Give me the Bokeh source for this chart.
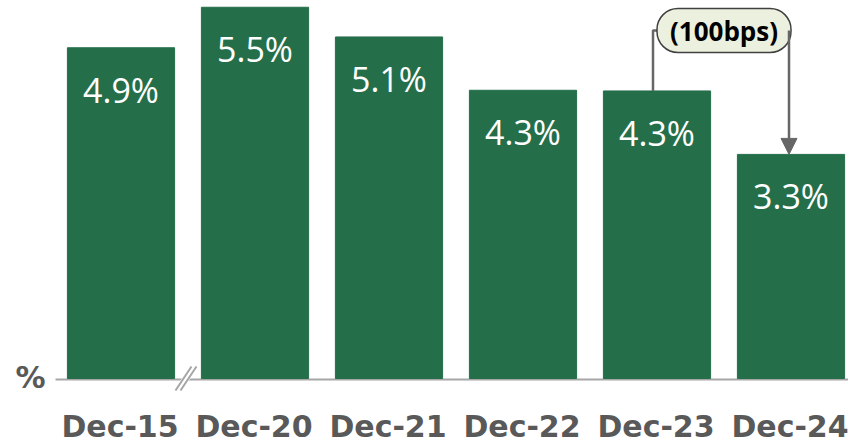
from bokeh.plotting import figure
from bokeh.models import Range1d, Arrow, NormalHead, ColumnDataSource
from bokeh.core.properties import value
from bokeh.embed import file_html
from bokeh.resources import INLINE

# ---- data ----
categories = ["Dec-15", "Dec-20", "Dec-21", "Dec-22", "Dec-23", "Dec-24"]
rates = [4.9, 5.5, 5.06, 4.27, 4.26, 3.32]
value_labels = [f"{v:.1f}%" for v in rates]
change_label = "(100bps)"
unit_label = "%"

# ---- styling / geometry helpers ----
W, H = 848, 445
PITCH = 134.0      # px per category
PXY = 67.5         # px per 1 percentage point
BASE_PX = 378.0    # baseline y within the figure (from top)
FIRST_PX = 120.5   # first bar centre within the figure (from left)

x0 = -FIRST_PX / PITCH
x1 = (W - FIRST_PX) / PITCH
y1 = BASE_PX / PXY
y0 = -(H - BASE_PX) / PXY

def dx(px):
    return px / PITCH

def dy(px):
    return px / PXY

GREEN = "#246F4A"
GREY = "#595959"
AXIS = "#A6A6A6"

p = figure(width=W, height=H, output_backend="svg", toolbar_location=None,
           x_range=Range1d(x0, x1), y_range=Range1d(y0, y1),
           min_border=0, outline_line_color=None)
p.axis.visible = False
p.grid.visible = False
p.background_fill_color = "white"
p.border_fill_color = "white"

xs = list(range(len(categories)))

# axis baseline
p.line([x0 + dx(55), x1], [-dy(1), -dy(1)], line_color=AXIS, line_width=2)

# bars
src = ColumnDataSource(dict(x=xs, top=rates, lab=value_labels, cat=categories,
                            ly=[r - dy(42) for r in rates]))
p.vbar(x="x", top="top", bottom=0, width=0.8, source=src,
       fill_color=GREEN, line_color=GREEN)

# value labels
p.text(x="x", y="ly", text="lab", source=src, text_color="white",
       text_font=value("Open Sans"), text_font_size="34px",
       text_align="center", text_baseline="middle")

# category labels
p.text(x="x", y=-dy(48), text="cat", source=src, text_color=GREY,
       text_font=value("DejaVu Sans"), text_font_style="bold",
       text_font_size="30px", text_align="center", text_baseline="middle",
       x_offset=-1)

# unit label
p.text(x=[x0 + dx(45)], y=[dy(1)], text=[unit_label], text_color=GREY,
       text_font=value("DejaVu Sans"), text_font_style="bold",
       text_font_size="30px", text_align="right", text_baseline="alphabetic")

# axis break marks
bx = 0.5 - dx(3)
p.segment(x0=[bx - dx(7)], y0=[-dy(12)], x1=[bx + dx(9)], y1=[dy(12)],
          line_color="white", line_width=7)
for off in (-2.5, 2.5):
    p.segment(x0=[bx - dx(7) + dx(off)], y0=[-dy(12)],
              x1=[bx + dx(9) + dx(off)], y1=[dy(12)],
              line_color=AXIS, line_width=2)

# change annotation
top_y = dy(BASE_PX - 30)
lx = xs[4] - dx(4)
rx = xs[5] - dx(2)
p.line([lx, lx, rx], [rates[4], top_y, top_y], line_color="#666666", line_width=2.5)
p.add_layout(Arrow(end=NormalHead(size=16, fill_color="#666666", line_color="#666666"),
                   x_start=rx, y_start=top_y, x_end=rx, y_end=rates[5],
                   line_color="#666666", line_width=2.5))
bxc = (xs[4] + xs[5]) / 2 - dx(0)
p.rect(x=[bxc], y=[top_y], width=134, height=44,
       width_units="screen", height_units="screen", border_radius=21,
       fill_color="#EBF1DE", line_color="#404040", line_width=1.5)
p.text(x=[bxc], y=[top_y], text=[change_label],
       text_color="black", text_font=value("Open Sans"), text_font_style="bold",
       text_font_size="26px", text_align="center", text_baseline="middle")

open("out.html", "w").write(file_html(p, INLINE))
